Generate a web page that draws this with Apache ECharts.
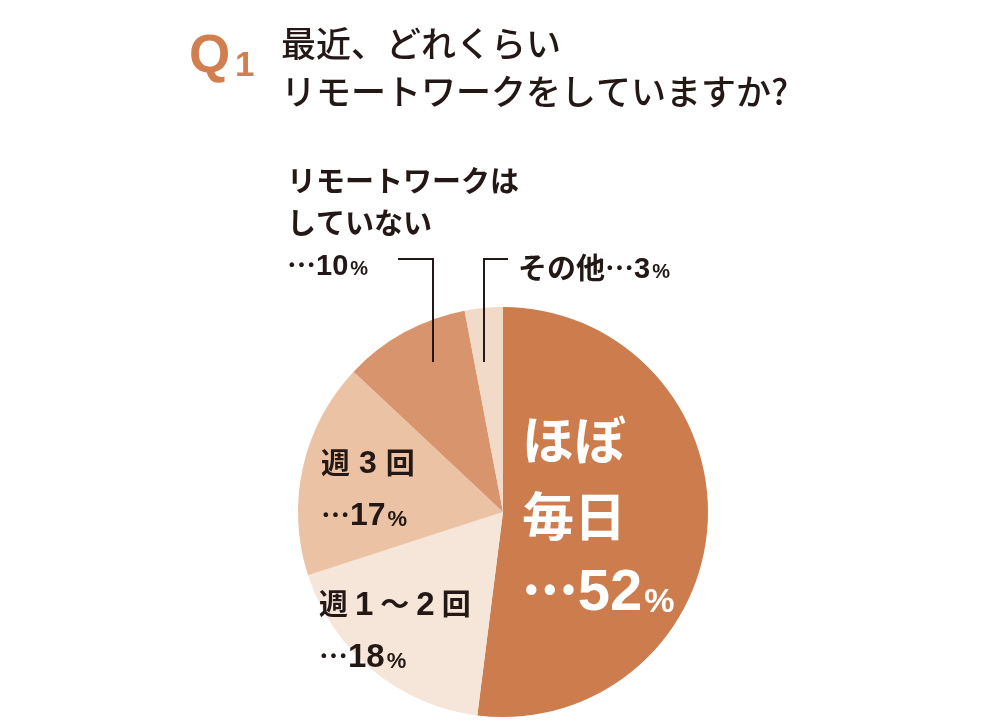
<!DOCTYPE html>
<html><head><meta charset="utf-8">
<script src="https://cdn.jsdelivr.net/npm/echarts@6/dist/echarts.min.js"></script>
<style>html,body{margin:0;padding:0;background:#fff}#c{width:1000px;height:727px}</style>
</head><body><div id="c"></div>
<script>
const categories = ['ほぼ毎日', '週1〜2回', '週3回', 'リモートワークはしていない', 'その他'];
const values = [52, 18, 17, 10, 3];
const colors = ['#CD7C4E', '#F6E6DA', '#EBC2A3', '#D8946C', '#F2DAC8'];
const titleLines = ['最近、どれくらい', 'リモートワークをしていますか?'];

const CX = 503, CY = 512, R = 205;
const ink = '#231815';
const jp = '"Noto Sans CJK JP", "Noto Sans", sans-serif';
const lat = '"Liberation Sans", Arial, sans-serif';

function richSet(nSize, dSize, pSize, color, lh) {
  const pad = Math.round(0.72 * (dSize - pSize)) + 4;
  return {
    n: {fontSize: nSize, fontWeight: 'bold', fill: color, fontFamily: jp, lineHeight: lh},
    t: {fontSize: nSize, fontWeight: 'bold', fill: color, fontFamily: jp, lineHeight: lh},
    d: {fontSize: dSize, fontWeight: 'bold', fill: color, fontFamily: lat, padding: [4, 0, 0, 0]},
    dp: {fontSize: dSize, fontWeight: 'bold', fill: color, fontFamily: lat, padding: [4, 7, 0, 7]},
    dq: {fontSize: dSize, fontWeight: 'bold', fill: color, fontFamily: lat, padding: [4, 9, 0, 9]},
    p: {fontSize: pSize, fontWeight: 'bold', fill: color, fontFamily: lat, padding: [pad, 0, 0, 2]},
    b: {fontSize: 36, fontWeight: 'bold', fill: color, fontFamily: lat, lineHeight: lh, padding: [0, 3, 0, 3]}
  };
}
function pct(i) { return '{t|…}{d|' + values[i] + '}{p|%}'; }

const chart = echarts.init(document.getElementById('c'));
const graphics = [
    {type: 'text', left: 189, top: 31, style: {text: 'Q', fontSize: 53, fontWeight: 'bold', fill: '#D27F4F', fontFamily: lat}},
    {type: 'text', left: 235, top: 49, style: {text: '1', fontSize: 35, fontWeight: 'bold', fill: '#D27F4F', fontFamily: lat}},
    {type: 'text', left: 281, top: 26, style: {text: titleLines[0], fontSize: 35, fontWeight: 500, fill: ink, fontFamily: jp}},
    {type: 'text', left: 281, top: 74, style: {text: titleLines[1], fontSize: 35, fontWeight: 500, fill: ink, fontFamily: jp}},
    {type: 'text', left: 522, top: 414, style: {
      text: '{n|ほぼ}\n{n|毎日}\n' + '{b|•}{b|•}{b|•}{d|' + values[0] + '}{p|%}',
      rich: richSet(52, 58, 34, '#fff', 76)
    }},
    {type: 'text', left: 321, top: 448, style: {
      text: '{n|週}{dq|3}{n|回}\n' + pct(2),
      rich: richSet(29, 32, 22, ink, 52)
    }},
    {type: 'text', left: 319, top: 589, style: {
      text: '{n|週}{dp|1}{n|〜}{dp|2}{n|回}\n' + pct(1),
      rich: richSet(29, 33, 22, ink, 52)
    }},
    {type: 'text', left: 287, top: 166, style: {
      text: '{n|リモートワークは}\n{n|していない}\n' + pct(3),
      rich: richSet(29, 29, 20, ink, 42)
    }},
    {type: 'text', left: 518, top: 253, style: {
      text: '{n|その他}{t|…}{d|' + values[4] + '}{p|%}',
      rich: richSet(29, 29, 20, ink, 36)
    }},
    {type: 'polyline', shape: {points: [[398, 259], [433, 259], [433, 362]]}, style: {stroke: ink, lineWidth: 2, fill: null}},
    {type: 'polyline', shape: {points: [[508, 259], [484, 259], [484, 362]]}, style: {stroke: ink, lineWidth: 2, fill: null}}
];
graphics.forEach(g => { g.z = 100; });
chart.setOption({
  animation: false,
  series: [{
    type: 'pie',
    z: 1,
    center: [CX, CY],
    radius: [0, R],
    startAngle: 90,
    clockwise: true,
    label: {show: false},
    labelLine: {show: false},
    emphasis: {disabled: true},
    data: categories.map((c, i) => ({name: c, value: values[i], itemStyle: {color: colors[i]}}))
  }],
  graphic: graphics
});
</script></body></html>
